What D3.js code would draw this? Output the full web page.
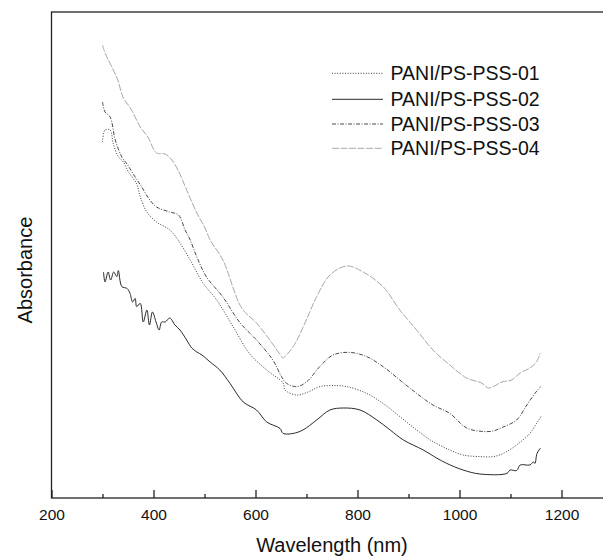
<!DOCTYPE html>
<html>
<head>
<meta charset="utf-8">
<script src="https://cdn.jsdelivr.net/npm/d3@7/dist/d3.min.js"></script>
<style>
  body { margin: 0; background: #fff; }
  svg { display: block; font-family: Arial, "Liberation Sans", sans-serif; }
</style>
</head>
<body>
<svg id="chart"></svg>
<script>
// spectra: [wavelength nm, absorbance a.u.]
const pss01 = [[300,1.78],[305,1.84],[315,1.84],[321,1.773],[331,1.707],[341,1.68],[351,1.63],[367,1.57],[374,1.507],
  [387,1.43],[406,1.38],[432,1.34],[448,1.29],[472,1.19],[497,1.075],[524,0.99],[556,0.857],[589,0.72],[622,0.64],
  [654,0.575],[658,0.54],[681,0.515],[703,0.53],[726,0.557],[752,0.562],[779,0.557],[818,0.523],[850,0.473],
  [883,0.407],[916,0.34],[948,0.282],[981,0.24],[1007,0.215],[1040,0.207],[1066,0.207],[1086,0.223],[1112,0.265],
  [1138,0.323],[1151,0.373],[1158,0.40],[1161,0.415]];
const pss02 = [[302,1.13],[305,1.08],[311,1.13],[316,1.09],[322,1.13],[328,1.107],[331,1.137],[338,1.057],[348,1.048],
  [354,1.023],[359,0.98],[364,0.998],[367,0.957],[374,0.973],[380,0.88],[387,0.94],[392,0.865],[398,0.93],[405,0.88],
  [411,0.84],[416,0.88],[423,0.88],[432,0.90],[442,0.865],[452,0.84],[465,0.79],[475,0.75],[485,0.73],[495,0.715],
  [511,0.68],[530,0.64],[550,0.573],[576,0.48],[602,0.44],[622,0.38],[648,0.348],[654,0.323],[674,0.323],[693,0.34],
  [720,0.39],[746,0.44],[772,0.45],[805,0.44],[838,0.39],[864,0.34],[890,0.29],[929,0.24],[955,0.20],[975,0.173],
  [1007,0.14],[1040,0.12],[1093,0.123],[1099,0.14],[1112,0.137],[1119,0.165],[1138,0.165],[1145,0.18],[1148,0.173],
  [1152,0.223],[1159,0.25]];
const pss03 = [[300,1.98],[305,1.93],[315,1.905],[325,1.79],[338,1.705],[348,1.67],[364,1.605],[377,1.555],[390,1.50],
  [406,1.455],[432,1.43],[449,1.415],[462,1.34],[472,1.29],[485,1.205],[504,1.105],[536,1.005],[570,0.875],[602,0.79],
  [634,0.69],[651,0.607],[661,0.573],[681,0.557],[700,0.58],[726,0.657],[752,0.715],[785,0.728],[818,0.707],[850,0.657],
  [883,0.59],[916,0.523],[948,0.465],[981,0.423],[1014,0.35],[1044,0.333],[1066,0.335],[1083,0.352],[1112,0.39],
  [1132,0.465],[1150,0.53],[1159,0.557]];
const pss04 = [[300,2.265],[305,2.225],[318,2.157],[330,2.09],[340,2.005],[357,1.94],[374,1.855],[389,1.805],[406,1.725],
  [423,1.72],[436,1.69],[448,1.64],[465,1.54],[485,1.425],[501,1.35],[511,1.29],[536,1.19],[573,0.95],[602,0.875],
  [628,0.79],[651,0.707],[653,0.70],[674,0.757],[697,0.875],[720,1.007],[746,1.115],[779,1.16],[811,1.13],[850,1.057],
  [883,0.94],[916,0.84],[948,0.74],[981,0.665],[1014,0.60],[1044,0.574],[1056,0.55],[1066,0.557],[1083,0.58],
  [1102,0.59],[1119,0.625],[1138,0.65],[1151,0.68],[1158,0.725]];

const seriesNames = ["PANI/PS-PSS-01", "PANI/PS-PSS-02", "PANI/PS-PSS-03", "PANI/PS-PSS-04"];
const seriesData = [pss01, pss02, pss03, pss04];
const majorTicks = [200, 400, 600, 800, 1000, 1200];
const minorTicks = [300, 500, 700, 900, 1100];

const width = 603, height = 560;
const marginLeft = 51.5, marginTop = 12, plotRight = 612.5, plotBottom = 498;

const styles = [
  { stroke: "#3a3a3a", dash: "1,1.6", w: 1 },
  { stroke: "#2a2a2a", dash: null, w: 1 },
  { stroke: "#4a4a4a", dash: "4,1.5,1,1.5", w: 1 },
  { stroke: "#a8a8a8", dash: "7,1.5", w: 1 }
];

const svg = d3.select("#chart")
  .attr("width", width)
  .attr("height", height)
  .attr("viewBox", [0, 0, width, height]);

const x = d3.scaleLinear().domain([200, 1300]).range([marginLeft, plotRight]);
const y = d3.scaleLinear().domain([0, 2.43]).range([plotBottom, marginTop]);

// frame
svg.append("rect")
  .attr("x", marginLeft).attr("y", marginTop)
  .attr("width", plotRight - marginLeft).attr("height", plotBottom - marginTop)
  .attr("fill", "none").attr("stroke", "#222").attr("stroke-width", 1.3);

// bottom axis, ticks inside
const gx = svg.append("g")
  .attr("transform", `translate(0,${plotBottom})`)
  .call(d3.axisBottom(x).tickValues(majorTicks).tickFormat(d3.format("d"))
    .tickSizeInner(-8).tickSizeOuter(0).tickPadding(11));
gx.select(".domain").remove();
gx.selectAll(".tick line").attr("stroke", "#222").attr("stroke-width", 1.3);
gx.selectAll(".tick text").attr("font-size", "15.5px").attr("fill", "#111")
  .attr("font-family", "Arial, 'Liberation Sans', sans-serif");

const gm = svg.append("g")
  .attr("transform", `translate(0,${plotBottom})`)
  .call(d3.axisBottom(x).tickValues(minorTicks).tickSizeInner(-4).tickSizeOuter(0).tickFormat(""));
gm.select(".domain").remove();
gm.selectAll(".tick line").attr("stroke", "#222").attr("stroke-width", 1.3);

// axis titles
svg.append("text")
  .attr("x", x(750)).attr("y", 552)
  .attr("text-anchor", "middle")
  .attr("font-size", "20px").attr("fill", "#111")
  .text("Wavelength (nm)");

svg.append("text")
  .attr("transform", "translate(32,270) rotate(-90)")
  .attr("text-anchor", "middle")
  .attr("font-size", "20px").attr("fill", "#111")
  .text("Absorbance");

// curves
const line = d3.line()
  .x(d => x(d[0]))
  .y(d => y(d[1]))
  .curve(d3.curveCatmullRom.alpha(0.5));

seriesData.forEach((data, i) => {
  svg.append("path")
    .datum(data)
    .attr("d", line)
    .attr("fill", "none")
    .attr("stroke", styles[i].stroke)
    .attr("stroke-width", styles[i].w)
    .attr("stroke-dasharray", styles[i].dash);
});

// legend
const legendRows = [73.3, 99.3, 124, 148.3];
seriesNames.forEach((name, i) => {
  svg.append("line")
    .attr("x1", 332).attr("x2", 383)
    .attr("y1", legendRows[i]).attr("y2", legendRows[i])
    .attr("stroke", styles[i].stroke)
    .attr("stroke-width", styles[i].w)
    .attr("stroke-dasharray", styles[i].dash);
  svg.append("text")
    .attr("x", 390.5).attr("y", legendRows[i])
    .attr("dy", "0.35em")
    .attr("font-size", "19.5px").attr("fill", "#111")
    .text(name);
});
</script>
</body>
</html>
